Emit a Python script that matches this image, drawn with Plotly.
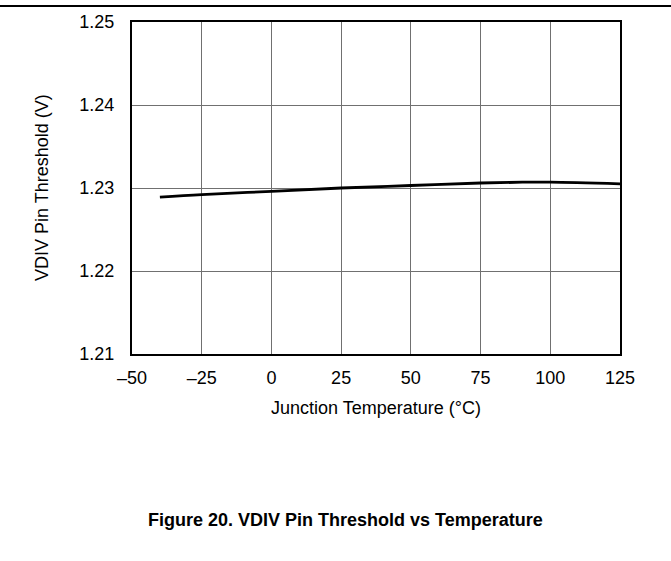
import plotly.graph_objects as go

temps = [-40, -25, 0, 25, 50, 75, 90, 100, 125]
vdiv = [1.2289, 1.2292, 1.2296, 1.2300, 1.2303, 1.2306, 1.2307, 1.2307, 1.2305]

x_ticks = [-50, -25, 0, 25, 50, 75, 100, 125]
x_ticktext = ["\u201350", "\u201325", "0", "25", "50", "75", "100", "125"]
y_ticks = [1.21, 1.22, 1.23, 1.24, 1.25]
y_ticktext = ["1.21", "1.22", "1.23", "1.24", "1.25"]

FONT = "Liberation Sans, Arial, sans-serif"
FS = 18

fig = go.Figure()
fig.add_trace(go.Scatter(x=temps, y=vdiv, mode="lines",
                         line=dict(color="black", width=2.8, shape="spline"),
                         showlegend=False, hoverinfo="skip"))

fig.update_layout(
    width=671, height=561,
    margin=dict(l=132, r=51, t=22, b=207, autoexpand=False),
    paper_bgcolor="white", plot_bgcolor="white",
    font=dict(family=FONT, size=FS, color="black"),
    xaxis=dict(range=[-50, 125], tickvals=x_ticks, ticktext=x_ticktext,
               showgrid=True, gridcolor="#707070", gridwidth=1,
               showline=True, linecolor="black", linewidth=2, mirror=True,
               ticks="", ticklabelstandoff=6, zeroline=False, automargin=False,
               tickfont=dict(size=FS)),
    yaxis=dict(range=[1.21, 1.25], tickvals=y_ticks, ticktext=y_ticktext,
               showgrid=True, gridcolor="#707070", gridwidth=1,
               showline=True, linecolor="black", linewidth=2, mirror=True,
               ticks="", ticklabelstandoff=12, zeroline=False, automargin=False,
               tickfont=dict(size=FS)),
    shapes=[dict(type="line", xref="paper", yref="paper",
                 x0=-132/488, x1=(671-132)/488, y0=1+16/332, y1=1+16/332,
                 line=dict(color="black", width=2))],
    annotations=[
        dict(text="Junction Temperature (\u00b0C)", xref="paper", yref="paper",
             x=0.5, y=-54/332, xanchor="center", yanchor="middle",
             showarrow=False, font=dict(size=FS)),
        dict(text="VDIV Pin Threshold (V)", xref="paper", yref="paper",
             x=-90/488, y=0.5, xanchor="center", yanchor="middle",
             textangle=-90, showarrow=False, font=dict(size=FS)),
        dict(text="<b>Figure 20. VDIV Pin Threshold vs Temperature</b>",
             xref="paper", yref="paper", x=(345-132)/488, y=-166/332,
             xanchor="center", yanchor="middle", showarrow=False,
             font=dict(size=FS)),
    ],
)

fig.write_html("out.html", config={"displayModeBar": False},
               post_script="document.body.style.margin='0';")
